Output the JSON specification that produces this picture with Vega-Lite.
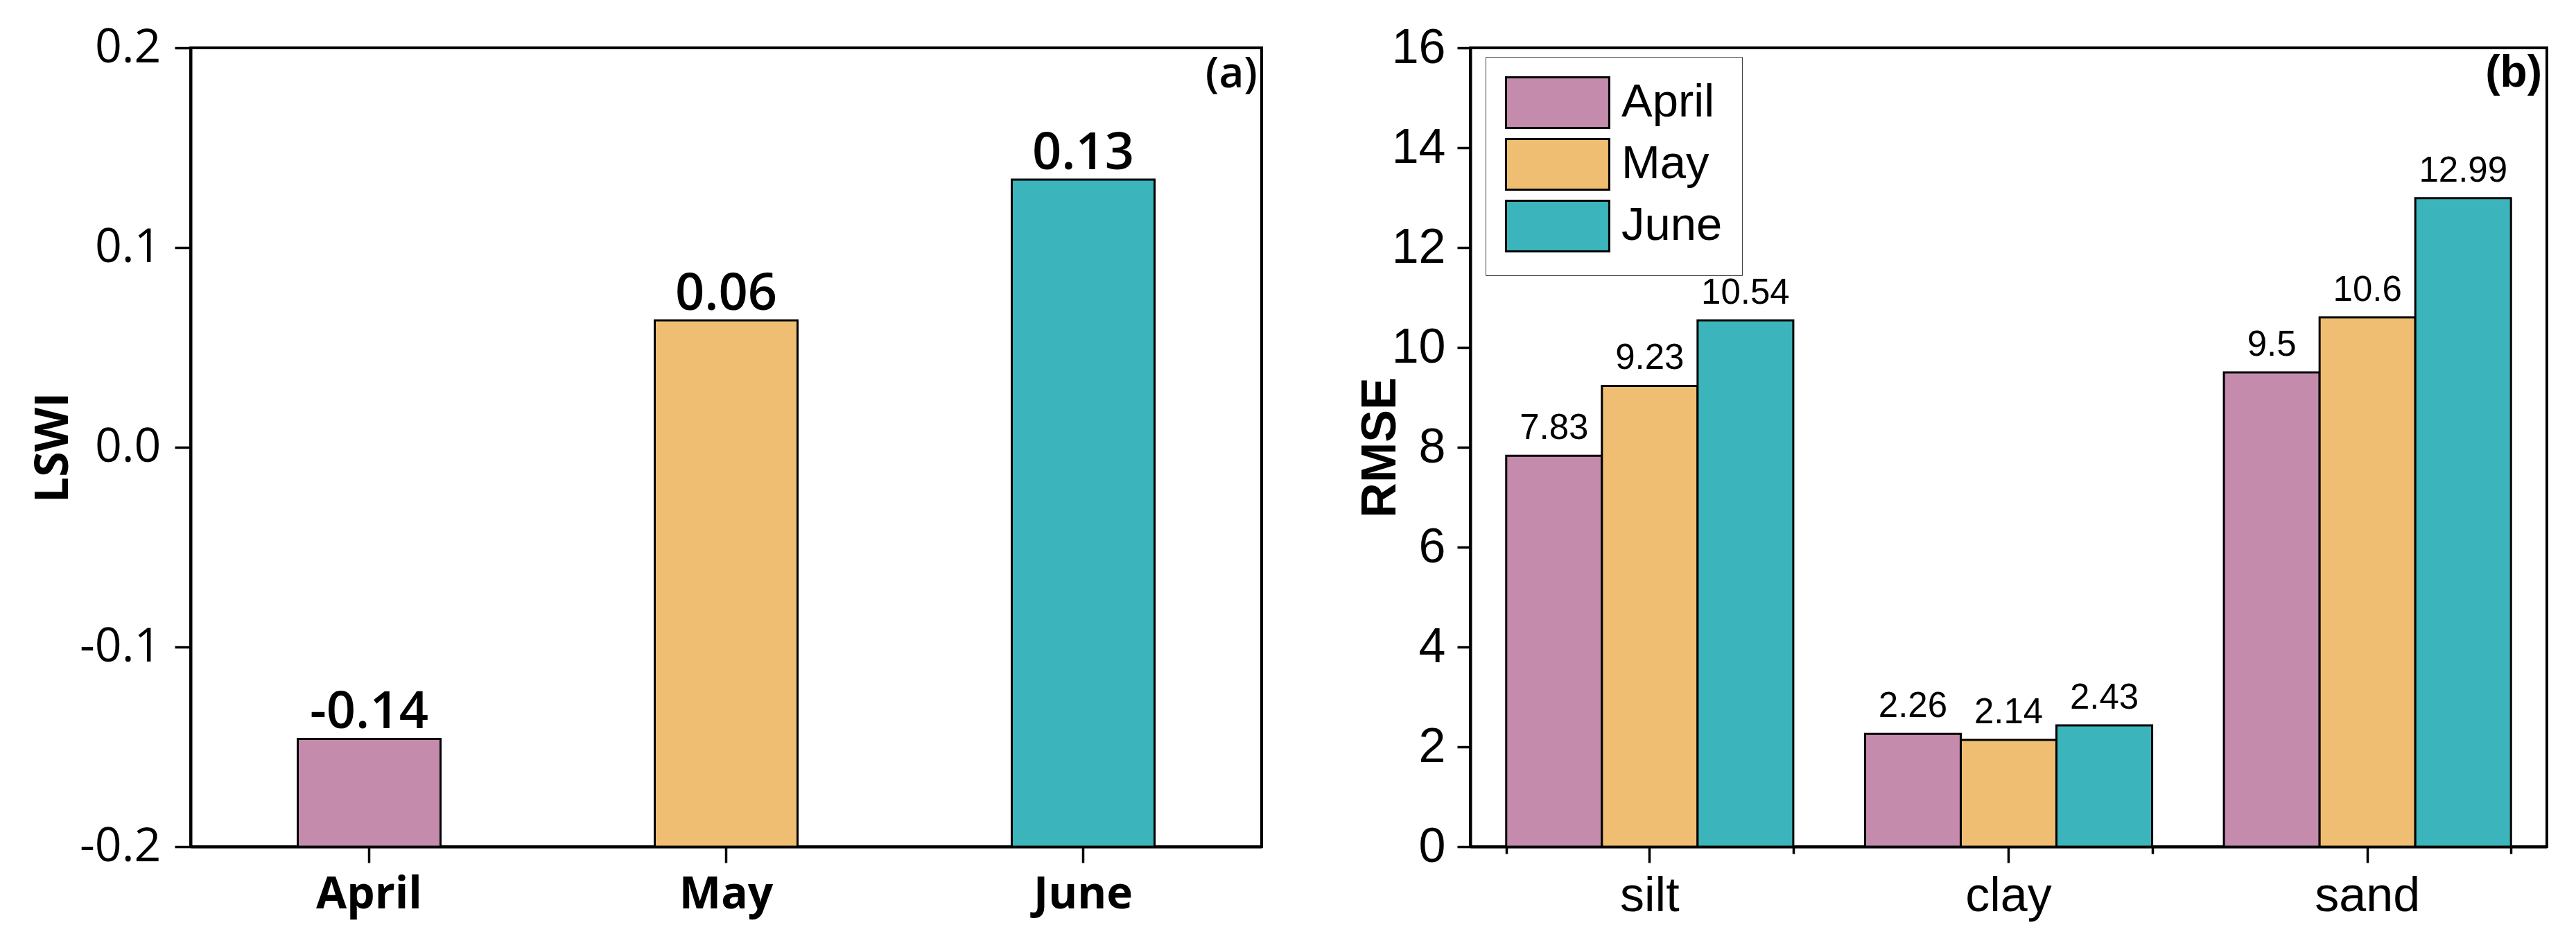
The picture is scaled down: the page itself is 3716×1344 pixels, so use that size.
{
  "$schema": "https://vega.github.io/schema/vega-lite/v6.json",
  "background": "white",
  "padding": {"left": 42, "top": 32, "right": 10, "bottom": 5},
  "spacing": 132,
  "resolve": {"scale": {"color": "independent"}, "legend": {"color": "independent"}},
  "config": {
    "view": {"stroke": "black", "strokeWidth": 4},
    "axis": {"domainColor": "black", "domainWidth": 4, "tickColor": "black", "tickWidth": 3.5, "grid": false, "labelColor": "black", "titleColor": "black", "labelAngle": 0},
    "bar": {"stroke": "black", "strokeWidth": 3}
  },
  "hconcat": [
    {
      "width": 1545,
      "height": 1152,
      "data": {"values": [
        {"month": "April", "lswi": -0.146, "label": "-0.14"},
        {"month": "May", "lswi": 0.0635, "label": "0.06"},
        {"month": "June", "lswi": 0.134, "label": "0.13"}
      ]},
      "title": {"text": "(a)", "orient": "top", "anchor": "end", "frame": "group", "offset": -104, "baseline": "top", "font": "Open Sans", "fontSize": 62, "fontWeight": 600, "color": "black", "dx": -6},
      "layer": [
        {
          "mark": {"type": "bar"},
          "encoding": {
            "x": {"field": "month", "type": "nominal", "sort": ["April", "May", "June"],
              "scale": {"paddingInner": 0.6, "paddingOuter": 0.3},
              "axis": {"title": null, "labelFont": "Open Sans", "labelFontWeight": "bold", "labelFontSize": 64, "tickSize": 23, "labelPadding": 14}},
            "y": {"field": "lswi", "type": "quantitative",
              "scale": {"domain": [-0.2, 0.2], "nice": false, "zero": false},
              "axis": {"values": [-0.2, -0.1, 0, 0.1, 0.2], "format": ".1f", "labelExpr": "replace(datum.label, '\u2212', '-')", "labelFont": "Open Sans", "labelFontSize": 68, "labelPadding": 20, "tickSize": 23, "title": "LSWI", "titleFont": "Open Sans", "titleFontWeight": "bold", "titleFontSize": 66, "titleX": -178, "titleBaseline": "alphabetic"}},
            "y2": {"datum": -0.2},
            "color": {"field": "month", "type": "nominal", "scale": {"domain": ["April", "May", "June"], "range": ["#C48BAD", "#F0BE72", "#3BB4BB"]}, "legend": null}
          }
        },
        {
          "mark": {"type": "text", "baseline": "alphabetic", "dy": -15, "font": "Open Sans", "fontSize": 74, "fontWeight": 600, "color": "black"},
          "encoding": {
            "x": {"field": "month", "type": "nominal", "sort": ["April", "May", "June"]},
            "y": {"field": "lswi", "type": "quantitative"},
            "text": {"field": "label", "type": "nominal"}
          }
        }
      ]
    },
    {
      "width": 1553,
      "height": 1152,
      "data": {"values": [
        {"soil": "silt", "month": "April", "rmse": 7.83},
        {"soil": "silt", "month": "May", "rmse": 9.23},
        {"soil": "silt", "month": "June", "rmse": 10.54},
        {"soil": "clay", "month": "April", "rmse": 2.26},
        {"soil": "clay", "month": "May", "rmse": 2.14},
        {"soil": "clay", "month": "June", "rmse": 2.43},
        {"soil": "sand", "month": "April", "rmse": 9.5},
        {"soil": "sand", "month": "May", "rmse": 10.6},
        {"soil": "sand", "month": "June", "rmse": 12.99}
      ]},
      "title": {"text": "(b)", "orient": "top", "anchor": "end", "frame": "group", "offset": -104, "baseline": "top", "font": "Liberation Sans", "fontSize": 64, "fontWeight": "bold", "color": "black", "dx": -7},
      "layer": [
        {
          "mark": {"type": "bar"},
          "encoding": {
            "x": {"field": "soil", "type": "nominal", "sort": ["silt", "clay", "sand"],
              "scale": {"paddingInner": 0.2, "paddingOuter": 0.1},
              "axis": {"title": null, "labelFont": "Liberation Sans", "labelFontSize": 70, "tickSize": 23, "labelPadding": 14}},
            "xOffset": {"field": "month", "type": "nominal", "sort": ["April", "May", "June"], "scale": {"paddingInner": 0, "paddingOuter": 0}},
            "y": {"field": "rmse", "type": "quantitative",
              "scale": {"domain": [0, 16], "nice": false},
              "axis": {"values": [0, 2, 4, 6, 8, 10, 12, 14, 16], "format": "d", "labelFont": "Liberation Sans", "labelFontSize": 70, "labelPadding": 17, "tickSize": 19, "title": "RMSE", "titleFont": "Liberation Sans", "titleFontWeight": "bold", "titleFontSize": 70, "titleX": -109, "titleBaseline": "alphabetic"}},
            "color": {"field": "month", "type": "nominal", "sort": ["April", "May", "June"],
              "scale": {"domain": ["April", "May", "June"], "range": ["#C48BAD", "#F0BE72", "#3BB4BB"]},
              "legend": {"title": null, "orient": "none", "legendX": 22, "legendY": 13, "fillColor": "white", "strokeColor": "#404040", "padding": 28, "symbolType": "M-1,-1H3.08V1H-1Z", "symbolSize": 5329, "symbolStrokeColor": "black", "symbolStrokeWidth": 3.5, "symbolOpacity": 1, "labelFont": "Liberation Sans", "labelFontSize": 67, "labelColor": "black", "labelOffset": 92, "rowPadding": 3, "labelLimit": 400}}
          }
        },
        {
          "mark": {"type": "text", "baseline": "alphabetic", "dy": -24, "font": "Liberation Sans", "fontSize": 51, "color": "black"},
          "encoding": {
            "x": {"field": "soil", "type": "nominal", "sort": ["silt", "clay", "sand"],
              "axis": {"orient": "bottom", "tickBand": "extent", "tickSize": 10, "labels": false, "domain": false, "title": null}},
            "xOffset": {"field": "month", "type": "nominal", "sort": ["April", "May", "June"]},
            "y": {"field": "rmse", "type": "quantitative"},
            "text": {"field": "rmse", "type": "quantitative", "format": "~g"}
          }
        }
      ],
      "resolve": {"axis": {"x": "independent"}}
    }
  ]
}
